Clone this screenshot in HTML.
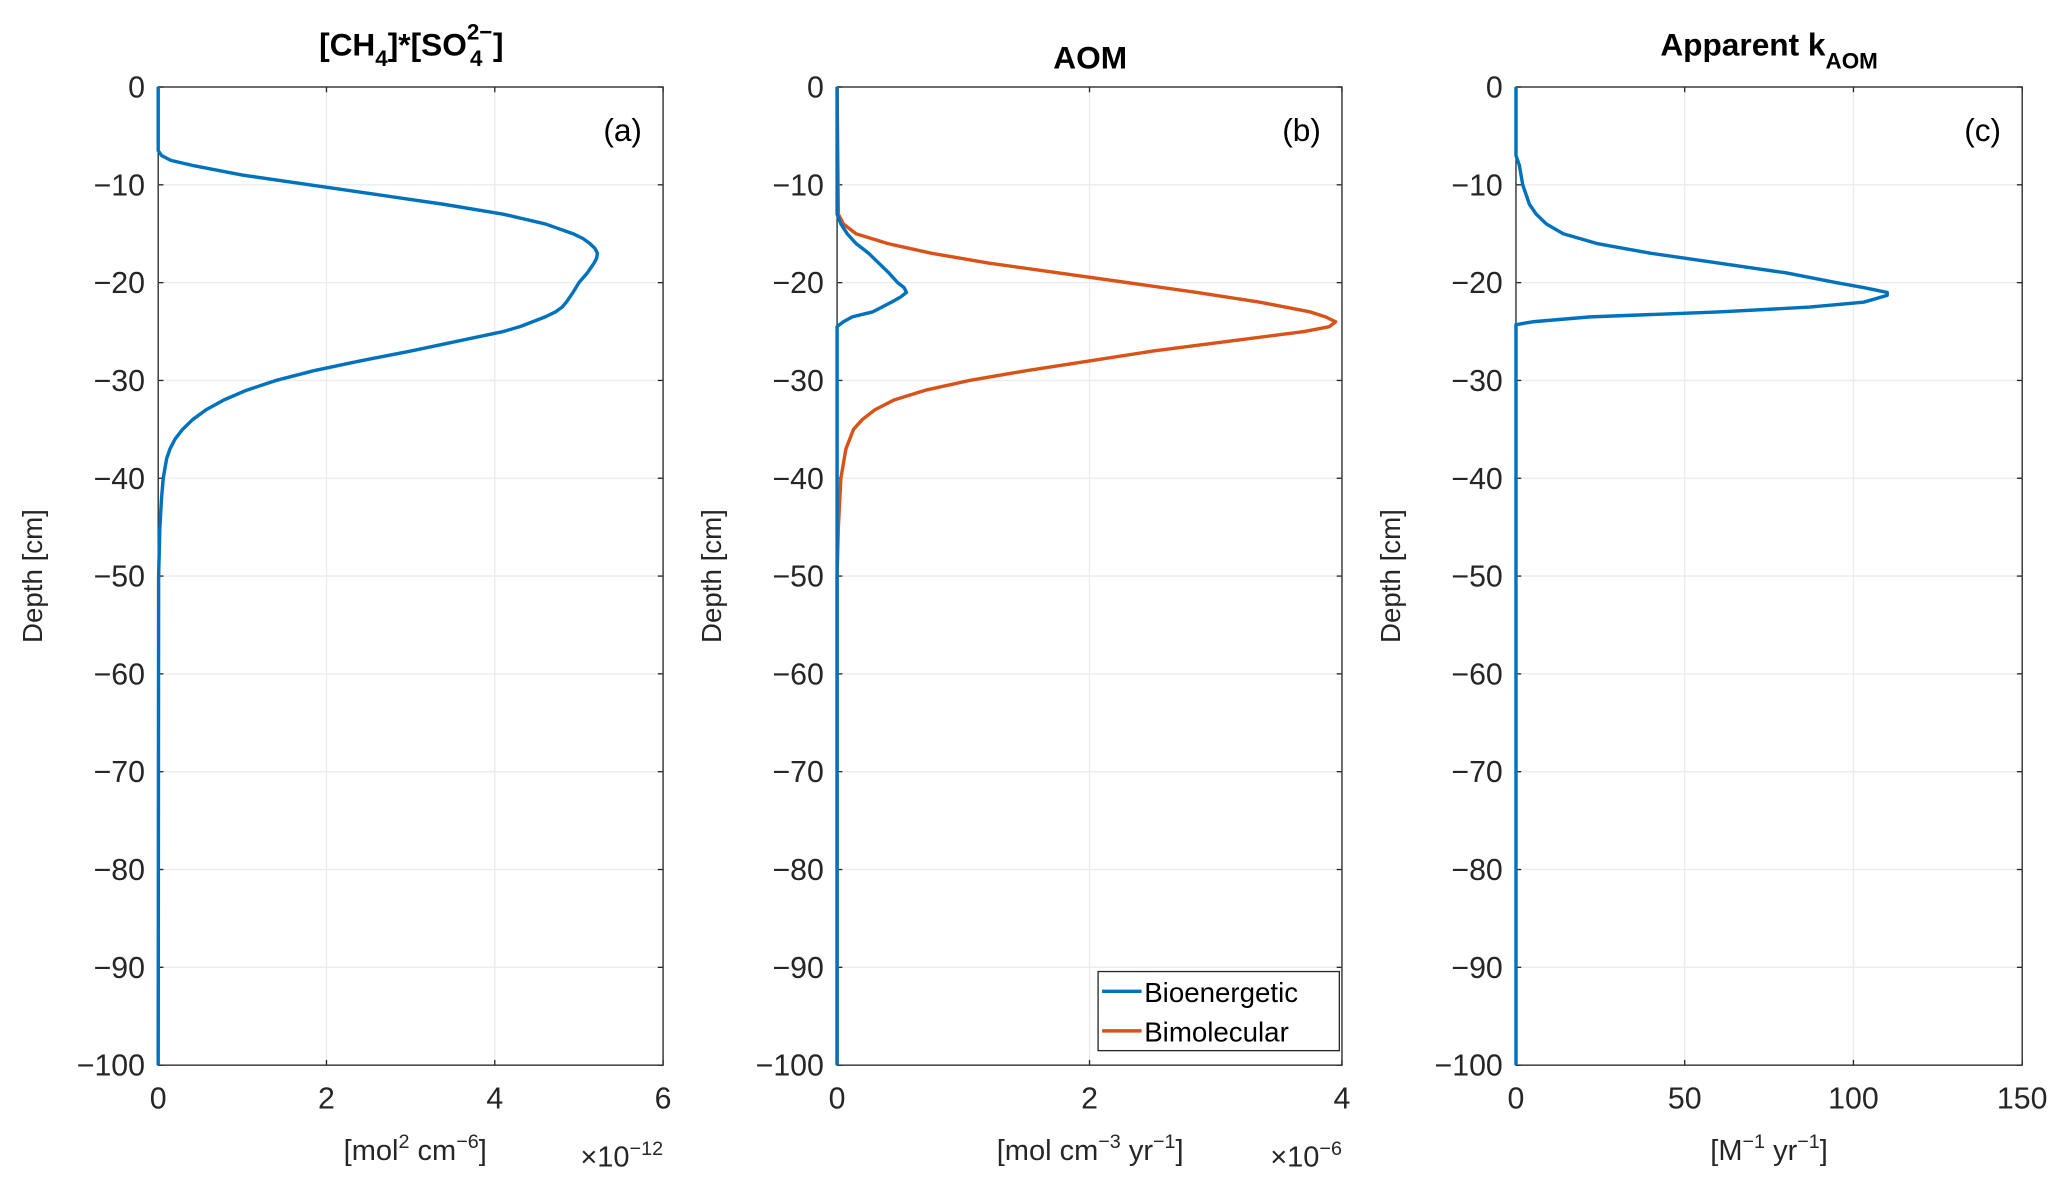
<!DOCTYPE html>
<html><head><meta charset="utf-8"><style>
html,body{margin:0;padding:0;background:#fff}
svg{display:block;font-family:"Liberation Sans","DejaVu Sans",sans-serif}
</style></head><body>
<svg id="fig" width="2067" height="1188" viewBox="0 0 1568 901.2" xmlns="http://www.w3.org/2000/svg"></svg>
<script>
const depthTicks=[0,-10,-20,-30,-40,-50,-60,-70,-80,-90,-100];
const aDepth=[0,-6.5,-7,-7.5,-8,-8.5,-9,-10,-11,-12,-13,-14,-15,-15.5,-16,-16.5,-17,-17.5,-18,-19,-20,-21,-22,-22.5,-23,-23.5,-24,-24.5,-25,-26,-27,-28,-29,-30,-31,-32,-33,-34,-35,-36,-37,-38,-40,-42,-45,-50,-100];
const aValues=[0,0,0.04,0.15,0.4,0.7,1.0,1.8,2.6,3.4,4.1,4.6,4.93,5.05,5.13,5.19,5.22,5.21,5.18,5.1,5.0,4.93,4.85,4.8,4.72,4.6,4.45,4.3,4.1,3.55,3.0,2.4,1.85,1.4,1.05,0.78,0.57,0.41,0.29,0.2,0.14,0.1,0.06,0.04,0.02,0.005,0];
const bBioDepth=[0,-13,-14,-15,-16,-17,-18,-19,-20,-20.5,-21,-21.5,-22,-23,-23.5,-24,-24.5,-100];
const bBioValues=[0,0,0.03,0.08,0.15,0.25,0.33,0.41,0.48,0.53,0.55,0.5,0.43,0.28,0.12,0.05,0,0];
const bBimDepth=[0,-13,-14,-15,-16,-17,-18,-19,-20,-21,-22,-23,-23.5,-24,-24.5,-25,-26,-27,-28,-29,-30,-31,-32,-33,-34,-35,-37,-40,-45,-50,-100];
const bBimValues=[0,0.01,0.05,0.15,0.4,0.75,1.2,1.75,2.3,2.85,3.35,3.75,3.87,3.95,3.9,3.7,3.1,2.5,2.0,1.5,1.05,0.7,0.45,0.3,0.2,0.13,0.07,0.03,0.01,0,0];
const cDepth=[0,-7,-8,-10,-12,-13,-14,-15,-16,-17,-18,-19,-20,-20.5,-21,-21.3,-22,-22.5,-23,-23.5,-24,-24.3,-100];
const cValues=[0,0,1,2,4,6,9,14,24,40,60,80,95,103,110,110,103,87,60,22,5,0,0];
const aXTicks=[0,2,4,6];
const bXTicks=[0,2,4];
const cXTicks=[0,50,100,150];

const NS="http://www.w3.org/2000/svg";
const svg=document.getElementById('fig');
function el(tag,attrs,parent){const e=document.createElementNS(NS,tag);for(const k in attrs)e.setAttribute(k,attrs[k]);(parent||svg).appendChild(e);return e;}
const T=66,B=808;
function yS(d){return T+(0-d)/100*(B-T);}
const panels=[
 {L:120,R:503,xmax:6,xt:aXTicks,name:'panel-a',tag:'(a)'},
 {L:635,R:1018,xmax:4,xt:bXTicks,name:'panel-b',tag:'(b)'},
 {L:1150,R:1534,xmax:150,xt:cXTicks,name:'panel-c',tag:'(c)'}
];
function drawPanel(p){
 const g=el('g',{});
 
 
 const xS=v=>p.L+v/p.xmax*(p.R-p.L);
 p.xS=xS;
 for(const t of depthTicks){const y=yS(t);
  el('line',{x1:p.L,x2:p.R,y1:y,y2:y,stroke:'#ebebeb','stroke-width':1},g);
  el('line',{x1:p.L,x2:p.L+4,y1:y,y2:y,stroke:'#262626','stroke-width':1},g);
  el('line',{x1:p.R-4,x2:p.R,y1:y,y2:y,stroke:'#262626','stroke-width':1},g);
  const tx=el('text',{x:p.L-10,y:y+8,'text-anchor':'end','font-size':23,fill:'#262626'},g);
  tx.textContent=String(t).replace('-','\u2212');
 }
 for(const t of p.xt){const x=xS(t);
  el('line',{x1:x,x2:x,y1:T,y2:B,stroke:'#ebebeb','stroke-width':1},g);
  el('line',{x1:x,x2:x,y1:B,y2:B-4,stroke:'#262626'},g);
  el('line',{x1:x,x2:x,y1:T,y2:T+4,stroke:'#262626'},g);
  const tx=el('text',{x:x,y:841,'text-anchor':'middle','font-size':23,fill:'#262626'},g);
  tx.textContent=t;
 }
 el('rect',{x:p.L,y:T,width:p.R-p.L,height:B-T,fill:'none',stroke:'#262626','stroke-width':1},g);
 const yl=el('text',{x:0,y:0,transform:`translate(${p.L-88},437) rotate(-90)`,'text-anchor':'middle','font-size':21,fill:'#262626'},g);
 
 
 yl.textContent='Depth [cm]';
 const tg=el('text',{x:p.R-16,y:107,'text-anchor':'end','font-size':24,fill:'#000'},g);
 
 
 tg.textContent=p.tag;
 return g;
}
function line(p,xs,ds,color,name,g){
 const pts=xs.map((v,i)=>p.xS(v).toFixed(2)+','+yS(ds[i]).toFixed(2)).join(' ');
 const pl=el('polyline',{points:pts,fill:'none',stroke:color,'stroke-width':2.6,'stroke-linejoin':'round'},g);
 
 
}
const blue='#0072bd',red='#d95319';
const ga=drawPanel(panels[0]);line(panels[0],aValues,aDepth,blue,'series-product',ga);
const gb=drawPanel(panels[1]);line(panels[1],bBimValues,bBimDepth,red,'series-bimolecular',gb);line(panels[1],bBioValues,bBioDepth,blue,'series-bioenergetic',gb);
const gc=drawPanel(panels[2]);line(panels[2],cValues,cDepth,blue,'series-kaom',gc);
</script>
<svg style="position:absolute;left:0;top:0" width="2067" height="1188" viewBox="0 0 1568 901.2" xmlns="http://www.w3.org/2000/svg" font-family="Liberation Sans, DejaVu Sans, sans-serif">
 <text x="312" y="42" text-anchor="middle" font-size="24" font-weight="bold" fill="#000">[CH<tspan dy="8" font-size="17">4</tspan><tspan dy="-8">]*[SO</tspan><tspan dy="-12" font-size="17">2−</tspan><tspan dx="-17" dy="20" font-size="17">4</tspan><tspan dx="8" dy="-8">]</tspan></text>
 <text x="827" y="52" text-anchor="middle" font-size="24" font-weight="bold" fill="#000">AOM</text>
 <text x="1342" y="42" text-anchor="middle" font-size="24" font-weight="bold" fill="#000">Apparent k<tspan dy="10" font-size="17">AOM</tspan></text>
 <text x="315" y="880" text-anchor="middle" font-size="22" fill="#262626">[mol<tspan dy="-9" font-size="15">2</tspan><tspan dy="9"> cm</tspan><tspan dy="-9" font-size="15">−6</tspan><tspan dy="9">]</tspan></text>
 <text x="503" y="885" text-anchor="end" font-size="22" fill="#262626">×10<tspan dy="-9" font-size="15">−12</tspan></text>
 <text x="827" y="880" text-anchor="middle" font-size="22" fill="#262626">[mol cm<tspan dy="-9" font-size="15">−3</tspan><tspan dy="9"> yr</tspan><tspan dy="-9" font-size="15">−1</tspan><tspan dy="9">]</tspan></text>
 <text x="1018" y="885" text-anchor="end" font-size="22" fill="#262626">×10<tspan dy="-9" font-size="15">−6</tspan></text>
 <text x="1342" y="880" text-anchor="middle" font-size="22" fill="#262626">[M<tspan dy="-9" font-size="15">−1</tspan><tspan dy="9"> yr</tspan><tspan dy="-9" font-size="15">−1</tspan><tspan dy="9">]</tspan></text>
 <g>
  <rect x="833" y="737" width="183" height="60" fill="#fff" stroke="#262626" stroke-width="1"/>
  <line x1="836" x2="866" y1="752" y2="752" stroke="#0072bd" stroke-width="2.6"/>
  <text x="868" y="760" font-size="21" fill="#000">Bioenergetic</text>
  <line x1="836" x2="866" y1="782" y2="782" stroke="#d95319" stroke-width="2.6"/>
  <text x="868" y="790" font-size="21" fill="#000">Bimolecular</text>
 </g>
</svg>
</body></html>
